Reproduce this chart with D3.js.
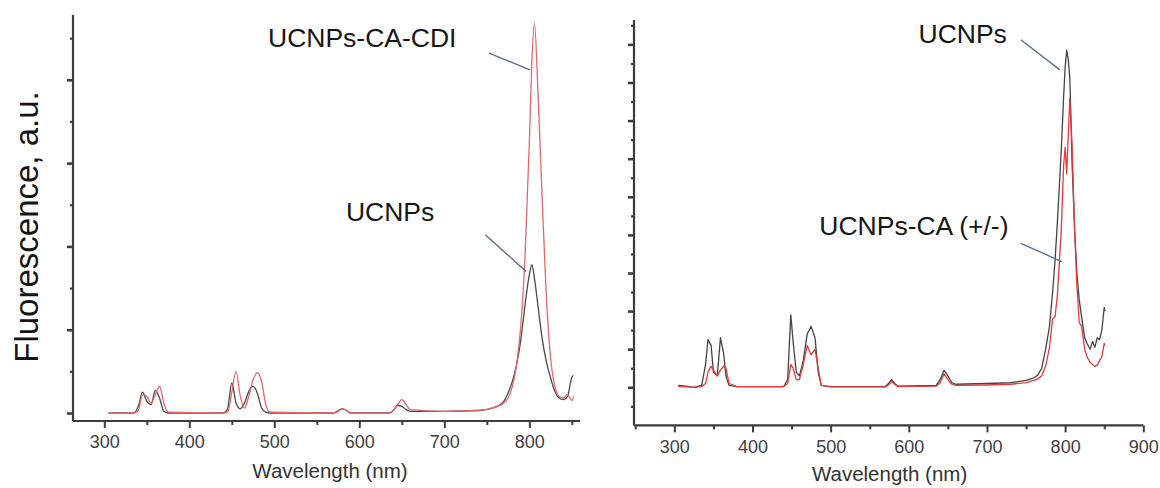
<!DOCTYPE html>
<html lang="en">
<head>
  <meta charset="utf-8">
  <title>Fluorescence spectra</title>
  <script type="text/javascript" src="https://cdn.jsdelivr.net/npm/d3@7"></script>
  <style>
    body { margin: 0; background: #fff; }
    svg { display: block; font-family: "Liberation Sans", Arial, sans-serif; }
  </style>
</head>
<body>
<script type="text/javascript">
// ---- left panel data (wavelength nm, fluorescence a.u.) ----
let leftNm = [305, 335, 340, 345, 350, 355, 360, 365, 370, 375, 440, 445, 450, 455, 460, 465,
  470, 475, 480, 485, 490, 495, 570, 575, 580, 585, 590, 635, 640, 645, 650, 655, 660, 700,
  740, 760, 770, 775, 780, 785, 790, 795, 800, 803, 806, 810, 815, 820, 825, 830, 835, 840,
  845, 850, 852];
let leftUcnps = [0, 0, 0.08, 0.25, 0.14, 0.1, 0.27, 0.18, 0.02, 0, 0, 0.05, 0.36, 0.12, 0.05, 0.12,
  0.26, 0.32, 0.24, 0.06, 0.01, 0, 0, 0.03, 0.05, 0.03, 0, 0, 0.03, 0.09, 0.08, 0.04, 0.02, 0.02,
  0.03, 0.07, 0.14, 0.24, 0.38, 0.58, 0.88, 1.3, 1.66, 1.78, 1.62, 1.3, 0.9, 0.62, 0.42, 0.26, 0.18, 0.16,
  0.2, 0.43, 0.45];
let leftCdi = [0, 0, 0.03, 0.22, 0.2, 0.12, 0.22, 0.32, 0.12, 0.01, 0, 0.01, 0.25, 0.5, 0.2, 0.06,
  0.2, 0.4, 0.48, 0.38, 0.1, 0.01, 0, 0.02, 0.05, 0.03, 0, 0, 0.03, 0.1, 0.16, 0.1, 0.04, 0.02,
  0.03, 0.07, 0.12, 0.18, 0.32, 0.58, 1.05, 1.9, 3.25, 4.22, 4.68, 3.9, 2.6, 1.4, 0.66, 0.32, 0.2, 0.18,
  0.22, 0.15, 0.2];

// ---- right panel data ----
let rightNm = [305, 315, 325, 335, 340, 343, 347, 350, 355, 359, 363, 366, 370, 380, 440, 445, 449,
  452, 456, 460, 465, 470, 475, 480, 484, 488, 500, 570, 575, 578, 582, 586, 635, 640, 645, 650,
  655, 660, 700, 730, 750, 760, 765, 770, 775, 780, 784, 787, 790, 795, 798, 800, 802, 804, 806,
  809, 812, 815, 818, 821, 825, 828, 832, 835, 838, 841, 844, 847, 850, 851];
let rightUcnps = [0.05, 0.03, 0, 0.05, 0.6, 1.25, 1.1, 0.4, 0.3, 1.3, 0.9, 0.3, 0.05, 0.02, 0.02, 0.2, 1.9,
  1.2, 0.4, 0.3, 0.7, 1.4, 1.6, 1.3, 0.4, 0.05, 0.02, 0.02, 0.12, 0.2, 0.1, 0.03, 0.05, 0.2, 0.45, 0.3,
  0.12, 0.08, 0.1, 0.12, 0.18, 0.25, 0.32, 0.5, 1.0, 1.6, 2.5, 3.3, 4.3, 6.2, 7.6, 8.4, 8.85, 8.6, 8.1,
  5.8, 4.2, 3.0, 2.3, 1.85, 1.3, 1.15, 1.0, 1.2, 1.05, 1.3, 1.25, 1.5, 2.1, 2.0];
let rightCa = [0.02, 0.01, 0, 0.02, 0.1, 0.4, 0.55, 0.45, 0.3, 0.45, 0.55, 0.5, 0.1, 0.02, 0.02, 0.1, 0.6,
  0.5, 0.2, 0.2, 0.6, 1.1, 0.85, 1.0, 0.5, 0.05, 0.01, 0.01, 0.08, 0.15, 0.08, 0.02, 0.03, 0.12, 0.35, 0.2,
  0.08, 0.05, 0.06, 0.08, 0.12, 0.18, 0.22, 0.3, 0.55, 1.05, 1.8, 1.85, 2.4, 4.1, 5.8, 6.3, 5.6, 6.6, 7.6,
  6.3, 4.2, 2.7, 1.7, 1.6, 1.0, 0.8, 0.65, 0.6, 0.55, 0.58, 0.7, 0.8, 1.15, 1.1];

// tick values
let leftXMajor = [300, 400, 500, 600, 700, 800];
let leftXMinor = [350, 450, 550, 650, 750, 850];
let leftYMajor = [0, 1, 2, 3, 4];
let leftYMinor = [0.5, 1.5, 2.5, 3.5, 4.5];
let rightXMajor = [300, 400, 500, 600, 700, 800, 900];
let rightXMinor = [250, 350, 450, 550, 650, 750, 850];
let rightYMajor = [0, 1, 2, 3, 4, 5, 6, 7, 8, 9];
let rightYMinor = [-0.5, 0.5, 1.5, 2.5, 3.5, 4.5, 5.5, 6.5, 7.5, 8.5, 9.5];

// annotations: [text, textNm, textVal, fromNm, fromVal, toNm, toVal]
let leftNotes = [
  ["UCNPs-CA-CDI", 492.6, 4.39, 752.6, 4.32, 800.8, 4.12],
  ["UCNPs", 584.2, 2.30, 748.2, 2.14, 796.1, 1.70]
];
let rightNotes = [
  ["UCNPs", 612.4, 9.04, 743.3, 9.12, 793.2, 8.33],
  ["UCNPs-CA (+/-)", 485.5, 4.0, 743.3, 3.78, 795.6, 3.30]
];

let svg = d3.select("body").append("svg")
  .attr("width", 1160)
  .attr("height", 488);

function drawPanel(opt) {
  let x = d3.scaleLinear().domain(opt.xDomain).range(opt.xRange);
  let y = d3.scaleLinear().domain(opt.yDomain).range(opt.yRange);
  let g = svg.append("g");

  // spectra
  let line = d3.line()
    .x(function(d) { return x(d[0]); })
    .y(function(d) { return y(d[1]); })
    .curve(opt.curve);

  opt.series.forEach(function(s) {
    g.append("path")
      .datum(d3.zip(opt.nm, s.values))
      .attr("fill", "none")
      .attr("stroke", s.color)
      .attr("stroke-width", 1.3)
      .attr("stroke-linejoin", "round")
      .attr("d", line);
  });

  // axes
  let xAxisY = opt.yRange[0];
  let yAxisX = opt.xRange[0];

  let xMaj = g.append("g")
    .attr("transform", "translate(0," + xAxisY + ")")
    .call(d3.axisBottom(x).tickValues(opt.xMajor).tickSize(7).tickPadding(opt.labelPad)
      .tickFormat(d3.format("d")));
  let xMin = g.append("g")
    .attr("transform", "translate(0," + xAxisY + ")")
    .call(d3.axisBottom(x).tickValues(opt.xMinor).tickSize(4).tickFormat(""));
  let yMaj = g.append("g")
    .attr("transform", "translate(" + yAxisX + ",0)")
    .call(d3.axisLeft(y).tickValues(opt.yMajor).tickSize(6).tickFormat(""));
  let yMin = g.append("g")
    .attr("transform", "translate(" + yAxisX + ",0)")
    .call(d3.axisLeft(y).tickValues(opt.yMinor).tickSize(3).tickFormat(""));

  [xMaj, xMin, yMaj, yMin].forEach(function(a) {
    a.selectAll(".domain").attr("stroke", "#3d3d3d").attr("stroke-width", 2.2);
    a.selectAll(".tick line").attr("stroke", "#3d3d3d");
  });
  xMaj.selectAll(".domain").attr("d", "M" + opt.xRange[0] + ",0H" + opt.xRange[1]);
  xMin.selectAll(".domain").remove();
  yMin.selectAll(".domain").remove();
  yMaj.selectAll(".domain").attr("d", "M0," + opt.yRange[0] + "V" + opt.yRange[1]);
  xMaj.selectAll(".tick line").attr("stroke-width", 2);
  xMin.selectAll(".tick line").attr("stroke-width", 2);
  yMaj.selectAll(".tick line").attr("stroke-width", 2.6);
  yMin.selectAll(".tick line").attr("stroke-width", 2.2);
  xMaj.selectAll(".tick text")
    .attr("font-family", "Liberation Sans, Arial, sans-serif")
    .attr("font-size", 18)
    .attr("fill", "#3f3f3f");

  // x title
  g.append("text")
    .attr("x", x(opt.titleNm))
    .attr("y", opt.titleY)
    .attr("text-anchor", "middle")
    .attr("font-size", 20.5)
    .attr("fill", "#333")
    .text("Wavelength (nm)");

  // annotations
  opt.notes.forEach(function(n) {
    g.append("line")
      .attr("x1", x(n[3])).attr("y1", y(n[4]))
      .attr("x2", x(n[5])).attr("y2", y(n[6]))
      .attr("stroke", "#5a6e95")
      .attr("stroke-width", 1.4);
    g.append("text")
      .attr("x", x(n[1]))
      .attr("y", y(n[2]))
      .attr("font-size", 26.5)
      .attr("fill", "#161616")
      .text(n[0]);
  });
}

drawPanel({
  nm: leftNm,
  series: [
    { values: leftUcnps, color: "#4a4a4a" },
    { values: leftCdi, color: "#e4686b" }
  ],
  xDomain: [263.2, 859.6], xRange: [73, 580],
  yDomain: [-0.096, 4.778], yRange: [421, 15],
  xMajor: leftXMajor, xMinor: leftXMinor,
  yMajor: leftYMajor, yMinor: leftYMinor,
  labelPad: 7,
  curve: d3.curveMonotoneX,
  titleNm: 565.5, titleY: 478,
  notes: leftNotes
});

drawPanel({
  nm: rightNm,
  series: [
    { values: rightUcnps, color: "#444444" },
    { values: rightCa, color: "#e5393b" }
  ],
  xDomain: [248.4, 900], xRange: [634, 1143.3],
  yDomain: [-1, 9.64], yRange: [425.4, 20],
  xMajor: rightXMajor, xMinor: rightXMinor,
  yMajor: rightYMajor, yMinor: rightYMinor,
  labelPad: 8,
  curve: d3.curveLinear,
  titleNm: 575.4, titleY: 481,
  notes: rightNotes
});

// shared y title
svg.append("text")
  .attr("transform", "translate(38,227) rotate(-90)")
  .attr("text-anchor", "middle")
  .attr("font-size", 33)
  .attr("fill", "#141414")
  .text("Fluorescence, a.u.");
</script>
</body>
</html>
